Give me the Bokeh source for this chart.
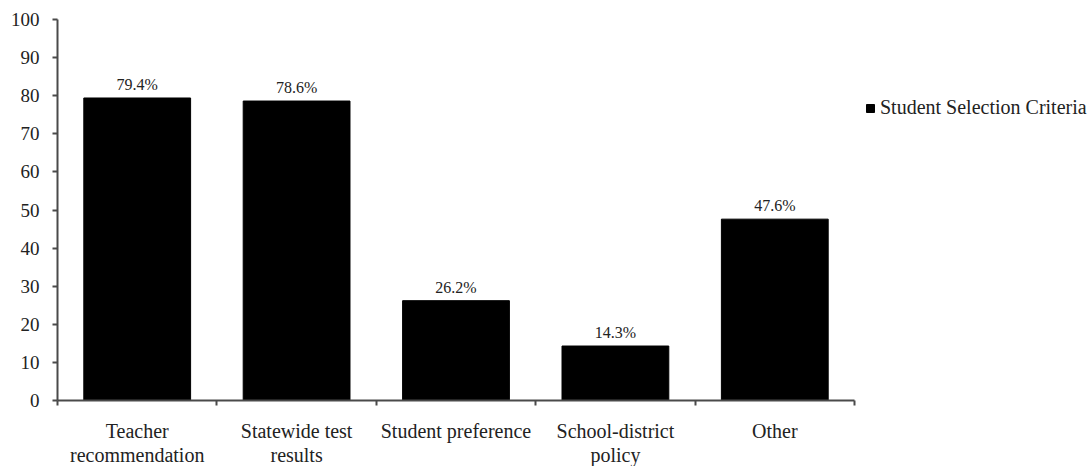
from bokeh.plotting import figure
from bokeh.models import (ColumnDataSource, Range1d, FixedTicker, Legend, LegendItem, LabelSet)
from bokeh.embed import file_html
from bokeh.resources import INLINE

categories = ["Teacher\nrecommendation", "Statewide test\nresults", "Student preference",
              "School-district\npolicy", "Other"]
values = [79.4, 78.6, 26.2, 14.3, 47.6]
value_labels = ["79.4%", "78.6%", "26.2%", "14.3%", "47.6%"]
series_name = "Student Selection Criteria"
y_ticks = [0, 10, 20, 30, 40, 50, 60, 70, 80, 90, 100]

n = len(categories)
x_pos = [i + 0.5 for i in range(n)]
src = ColumnDataSource(dict(x=x_pos, top=values, lab=value_labels))

FONT = "Liberation Serif"
AX = "#4a4a4a"
TXT = "#222222"

AXIS_PX = 797          # pixel length of the category axis
FRAME_W = 1091 - 57    # frame runs to the right edge, legend sits in the empty part
x_end = n * FRAME_W / AXIS_PX

p = figure(frame_width=FRAME_W, frame_height=381, min_border_left=57, min_border_right=0,
           min_border_top=19, min_border_bottom=0,
           x_range=Range1d(0, x_end), y_range=Range1d(0, 100),
           output_backend="svg", toolbar_location=None, background_fill_color="white",
           border_fill_color="white")
p.outline_line_color = None
p.grid.visible = False

r = p.vbar(x="x", top="top", width=0.67, bottom=0, source=src, fill_color="black",
           line_color="black")

labels = LabelSet(x="x", y="top", text="lab", source=src, text_align="center",
                  text_baseline="bottom", y_offset=5, text_font=FONT, text_font_size="16px",
                  text_color=TXT)
p.add_layout(labels)

# y axis
ya = p.yaxis[0]
ya.ticker = FixedTicker(ticks=y_ticks)
ya.major_tick_in = 0
ya.major_tick_out = 5
ya.minor_tick_out = 0
ya.minor_tick_in = 0
ya.axis_line_color = AX
ya.major_tick_line_color = AX
ya.axis_line_width = 2
ya.major_tick_line_width = 2
ya.major_label_text_font = FONT
ya.major_label_text_font_size = "19px"
ya.major_label_text_color = TXT
ya.major_label_standoff = 13

# x axis
xa = p.xaxis[0]
xa.bounds = (0, n)
xa.ticker = FixedTicker(ticks=x_pos, minor_ticks=list(range(n + 1)))
xa.major_label_overrides = {x: c for x, c in zip(x_pos, categories)}
xa.major_tick_in = 0
xa.major_tick_out = 0
xa.minor_tick_in = 0
xa.minor_tick_out = 5
xa.minor_tick_line_color = AX
xa.minor_tick_line_width = 2
xa.axis_line_color = AX
xa.axis_line_width = 2
xa.major_label_text_font = FONT
xa.major_label_text_font_size = "20px"
xa.major_label_text_color = TXT
xa.major_label_text_line_height = 1.1
xa.major_label_standoff = 14

legend = Legend(items=[LegendItem(label=series_name, renderers=[r])],
                location=(808, 281), border_line_color=None, background_fill_alpha=0,
                label_text_font=FONT, label_text_font_size="20px", label_text_color=TXT,
                glyph_width=10, glyph_height=10, padding=0, margin=0, spacing=0,
                label_standoff=5)
p.add_layout(legend)

open("out.html", "w").write(file_html(p, INLINE))
